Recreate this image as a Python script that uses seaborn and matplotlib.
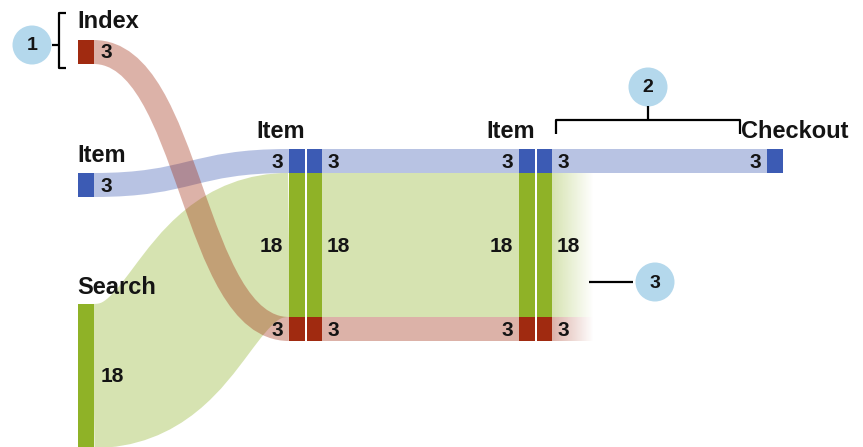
import numpy as np
import matplotlib
matplotlib.use("Agg")
import matplotlib.pyplot as plt
from matplotlib.path import Path
from matplotlib.patches import PathPatch, Circle
from matplotlib.colors import to_rgb
import seaborn as sns

# entry pages (first column) and their visits
entry_pages = ["Index", "Item", "Search"]
entry_visits = [3, 3, 18]

# both "Item" steps, stacked top to bottom by the page the visitor came from
step_label = "Item"
step_origins = ["Item", "Search", "Index"]
step_visits = [3, 18, 3]

# final step, only the Item traffic gets there
exit_page = "Checkout"
exit_origin = "Item"
exit_visits = 3

callout_labels = ["1", "2", "3"]

# colours per origin page
node_colors = {"Index": "#a02a10", "Item": "#3c5bb4", "Search": "#8fb227"}
BAND_ALPHA = 0.36
CIRCLE_COLOR = "#b4d8ec"

# layout (pixels)
UNIT = 8.0
BAR_W = 15.5
entry_x = 78
entry_tops = {"Index": 40, "Item": 173, "Search": 304}
step_top = 149
step_cols = [(289, 306.5), (519, 536.5)]
exit_x = 767
fade_len = 42

sns.set_theme(style="white")
plt.rcParams["font.family"] = ["Liberation Sans", "DejaVu Sans"]

fig = plt.figure(figsize=(8.63, 4.47), dpi=100)
ax = fig.add_axes([0, 0, 1, 1])


def px2pt(v):
    return v * 72 / fig.dpi


def flow(x0, y0, x1, y1, width, color):
    # a thick stroke along a bezier centre line
    xm = (x0 + x1) / 2
    path = Path([(x0, y0), (xm, y0), (xm, y1), (x1, y1)],
                [Path.MOVETO, Path.CURVE4, Path.CURVE4, Path.CURVE4])
    ax.add_patch(PathPatch(path, fill=False, lw=px2pt(width), capstyle="butt",
                           edgecolor=to_rgb(color) + (BAND_ALPHA,)))


# stacked segments of the Item steps
seg_tops = step_top + np.concatenate([[0], np.cumsum(step_visits)[:-1]]) * UNIT
seg_h = np.array(step_visits) * UNIT
seg_mid = dict(zip(step_origins, seg_tops + seg_h / 2))

# curved flows: entry page -> first Item step (green, then blue, red on top)
for page in ["Search", "Item", "Index"]:
    v = entry_visits[entry_pages.index(page)]
    y0 = entry_tops[page] + v * UNIT / 2
    flow(entry_x + BAR_W, y0, step_cols[0][0], seg_mid[page], v * UNIT, node_colors[page])

# straight flows between the two Item steps
for origin, v in zip(step_origins, step_visits):
    ax.barh(seg_mid[origin], step_cols[1][0] - step_cols[0][1] - BAR_W, left=step_cols[0][1] + BAR_W,
            height=v * UNIT, color=node_colors[origin], alpha=BAND_ALPHA, linewidth=0)

# Item -> Checkout
ax.barh(seg_mid[exit_origin], exit_x - step_cols[1][1] - BAR_W, left=step_cols[1][1] + BAR_W,
        height=exit_visits * UNIT, color=node_colors[exit_origin], alpha=BAND_ALPHA, linewidth=0)

# fading exits for the rest
grad = np.linspace(BAND_ALPHA, 0, 64)
for origin, v in zip(step_origins, step_visits):
    if origin == exit_origin:
        continue
    rgba = np.zeros((1, 64, 4))
    rgba[..., :3] = to_rgb(node_colors[origin])
    rgba[..., 3] = grad
    x_start = step_cols[1][1] + BAR_W
    ax.imshow(rgba, extent=(x_start, x_start + fade_len, seg_mid[origin] + v * UNIT / 2,
                            seg_mid[origin] - v * UNIT / 2), aspect="auto", interpolation="bilinear")

# node bars
for page, v in zip(entry_pages, entry_visits):
    ax.bar(entry_x, v * UNIT, width=BAR_W, bottom=entry_tops[page], align="edge",
           color=node_colors[page], linewidth=0)
for left, right in step_cols:
    for origin, top, h in zip(step_origins, seg_tops, seg_h):
        for x in (left, right):
            ax.bar(x, h, width=BAR_W, bottom=top, align="edge", color=node_colors[origin], linewidth=0)
ax.bar(exit_x, exit_visits * UNIT, width=BAR_W, bottom=step_top, align="edge",
       color=node_colors[exit_origin], linewidth=0)

# text
label_kw = dict(fontsize=17, fontweight="bold", color="#141414", va="center")
num_kw = dict(fontsize=15, fontweight="bold", color="#141414", va="center")
label_y = {"Index": 21, "Item": 155, "Search": 288}
for page, v in zip(entry_pages, entry_visits):
    ax.text(entry_x - 1, label_y[page], page, ha="left", **label_kw)
    ax.text(entry_x + BAR_W + 7, entry_tops[page] + v * UNIT / 2 + 1, str(v), ha="left", **num_kw)
for left, right in step_cols:
    ax.text(left + BAR_W, 132, step_label, ha="right", **label_kw)
    for origin, v in zip(step_origins, step_visits):
        ax.text(left - 6, seg_mid[origin] + 1, str(v), ha="right", **num_kw)
        ax.text(right + BAR_W + 5, seg_mid[origin] + 1, str(v), ha="left", **num_kw)
ax.text(741, 132, exit_page, ha="left", **label_kw)
ax.text(exit_x - 6, seg_mid[exit_origin] + 1, str(exit_visits), ha="right", **num_kw)

# callouts
line_kw = dict(color="black", lw=1.6, solid_capstyle="butt")
ax.plot([66, 58.5, 58.5, 66], [13, 13, 68, 68], **line_kw)
ax.plot([52, 58.5], [45, 45], **line_kw)
ax.plot([556, 556, 740, 740], [134, 120, 120, 134], **line_kw)
ax.plot([648, 648], [106, 120], **line_kw)
ax.plot([589, 633], [282, 282], **line_kw)
for (cx, cy), lab in zip([(32, 45), (648, 87), (655, 282)], callout_labels):
    ax.add_patch(Circle((cx, cy), 19.5, color=CIRCLE_COLOR, linewidth=0))
    ax.text(cx, cy + 1, lab, ha="center", va="center", fontsize=14, fontweight="bold", color="#141414")

ax.set_xlim(0, 863)
ax.set_ylim(447, 0)
ax.axis("off")
fig.savefig("out.png", dpi=100)
